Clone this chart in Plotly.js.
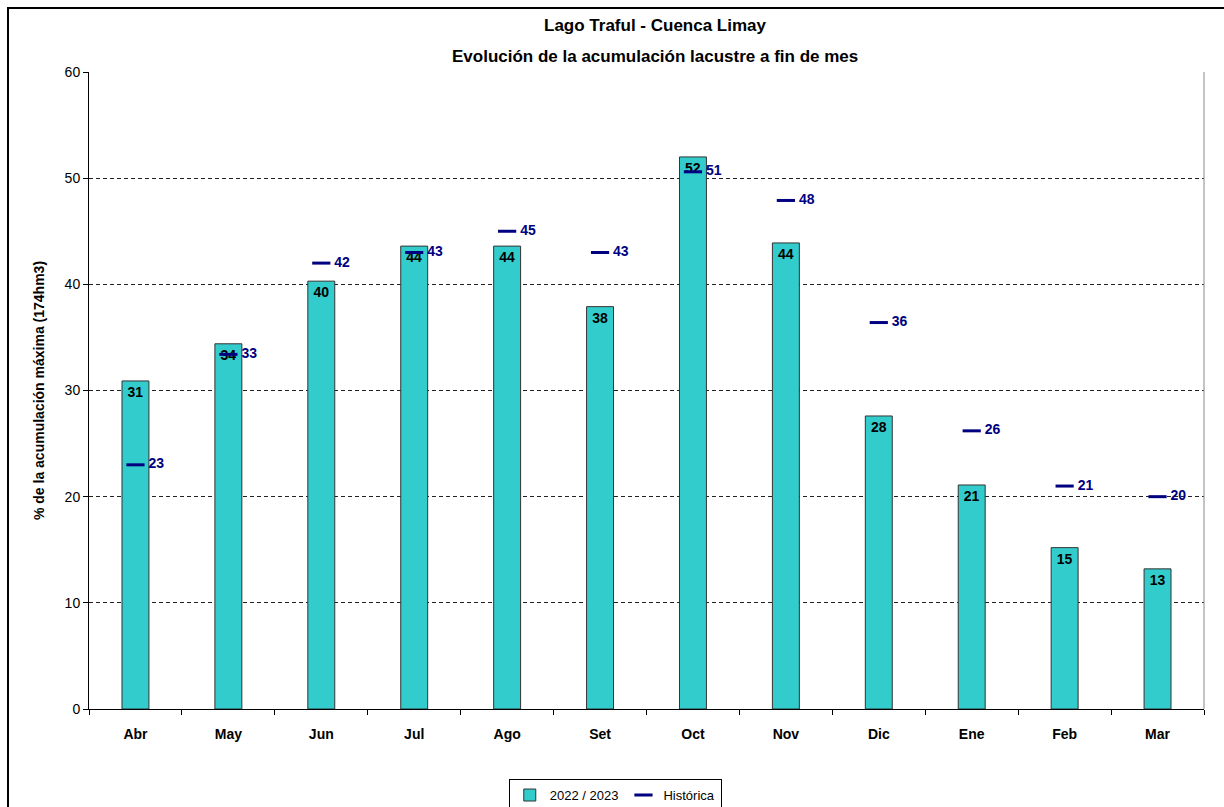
<!DOCTYPE html>
<html>
<head>
<meta charset="utf-8">
<script src="https://cdn.plot.ly/plotly-3.0.1.min.js"></script>
<style>
  body { margin: 0; background: #fff; overflow: hidden; }
  #frame { position: absolute; left: 7px; top: 7px; width: 1240px; height: 830px; border: 2px solid #000; }
  #chart { position: absolute; left: 0; top: 0; width: 1224px; height: 807px; }
</style>
</head>
<body>
<div id="frame"></div>
<div id="chart"></div>
<script>
var meses = ['Abr','May','Jun','Jul','Ago','Set','Oct','Nov','Dic','Ene','Feb','Mar'];
var actual = [30.9, 34.4, 40.3, 43.6, 43.6, 37.9, 52.0, 43.9, 27.6, 21.1, 15.2, 13.2];
var historica = [23.0, 33.4, 42.0, 43.0, 45.0, 43.0, 50.6, 47.9, 36.4, 26.2, 21.0, 20.0];

var font = 'Liberation Sans, Arial, sans-serif';

var barras = {
  x: meses,
  y: actual,
  type: 'bar',
  name: '2022 / 2023',
  marker: {color: '#33CCCC', line: {color: '#333333', width: 1}},
  texttemplate: '%{y:.0f}',
  textposition: 'inside',
  insidetextanchor: 'end',
  constraintext: 'none',
  textfont: {family: font, size: 14, color: '#000', weight: 'bold'},
  hoverinfo: 'none'
};

var hist = {
  x: meses,
  y: historica,
  type: 'scatter',
  mode: 'markers+text',
  name: 'Histórica',
  marker: {symbol: 'line-ew', size: 13, line: {color: '#000080', width: 3}, color: '#000080'},
  texttemplate: '\u00a0%{y:.0f}',
  textposition: 'middle right',
  textfont: {family: font, size: 14, color: '#000080', weight: 'bold'},
  cliponaxis: false,
  hoverinfo: 'none'
};

var layout = {
  width: 1224,
  height: 807,
  margin: {l: 89, r: 20, t: 72, b: 98, autoexpand: false},
  paper_bgcolor: 'rgba(0,0,0,0)',
  plot_bgcolor: '#fff',
  font: {family: font, size: 13, color: '#000'},
  bargap: 0.71,
  showlegend: true,
  legend: {
    orientation: 'h', x: 0.472, xanchor: 'center', y: -0.11, yanchor: 'top',
    bordercolor: '#000', borderwidth: 1, font: {size: 13},
    tracegroupgap: 0, itemwidth: 30
  },
  xaxis: {
    type: 'category',
    range: [-0.5, 11.5],
    showline: true, linecolor: '#000', linewidth: 1,
    ticks: 'outside', tickson: 'boundaries', ticklen: 5, tickcolor: '#000',
    tickfont: {size: 14, weight: 'bold'},
    ticklabelstandoff: 12,
    showgrid: false
  },
  yaxis: {
    range: [0, 60], dtick: 10,
    showline: true, linecolor: '#000', linewidth: 1,
    ticks: 'outside', ticklen: 5, tickcolor: '#000',
    tickfont: {size: 14},
    showgrid: true, gridcolor: '#222', griddash: '4px,3px', gridwidth: 1,
    zeroline: false,
    title: {text: '% de la acumulación máxima (174hm3)', font: {size: 14, weight: 'bold'}, standoff: 16}
  },
  annotations: [
    {text: 'Lago Traful - Cuenca Limay', xref: 'paper', yref: 'paper', x: 0.508, y: (709 - 25) / 637, showarrow: false,
     font: {size: 17, weight: 'bold'}, xanchor: 'center', yanchor: 'middle'},
    {text: 'Evolución de la acumulación lacustre a fin de mes', xref: 'paper', yref: 'paper', x: 0.508, y: (709 - 56) / 637, showarrow: false,
     font: {size: 17, weight: 'bold'}, xanchor: 'center', yanchor: 'middle'}
  ],
  shapes: [
    {type: 'line', xref: 'paper', yref: 'paper', x0: 1, x1: 1, y0: 0, y1: 1, line: {color: '#888', width: 1}}
  ]
};

Plotly.newPlot('chart', [barras, hist], layout, {displayModeBar: false});
</script>
</body>
</html>
